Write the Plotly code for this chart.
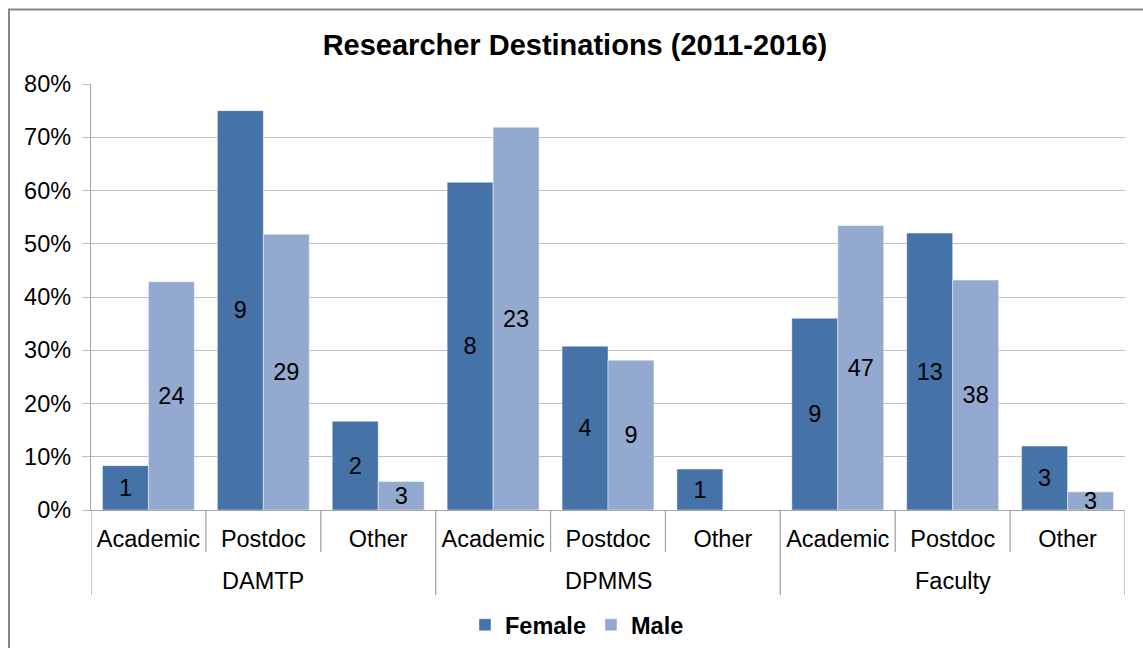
import plotly.graph_objects as go

# Destination counts per department, split by gender
groups = ["DAMTP", "DPMMS", "Faculty"]
destinations = ["Academic", "Postdoc", "Other"]
female_counts = [[1, 9, 2], [8, 4, 1], [9, 13, 3]]
male_counts = [[24, 29, 3], [23, 9, 0], [47, 38, 3]]
y_ticks = [0, 0.1, 0.2, 0.3, 0.4, 0.5, 0.6, 0.7, 0.8]

FEMALE_COLOR = "#4572A7"
MALE_COLOR = "#93A9CF"
FONT = "Liberation Sans, Arial, sans-serif"
FS = 23.5

W, H = 1143, 648
L, R, T, B = 91, 18, 84, 138
plot_w = W - L - R
plot_h = H - T - B


def px_x(px):
    return (px - L) / plot_w


def px_y(py):
    return (H - B - py) / plot_h


def shares(counts):
    out = []
    for row in counts:
        total = sum(row)
        out.extend(c / total for c in row)
    return out


def labels(counts):
    return [str(c) if c else "" for row in counts for c in row]


n_cat = len(groups) * len(destinations)
x_pos = list(range(n_cat))
tick_text = [d for _ in groups for d in destinations]

fig = go.Figure()
for name, counts, color in [("Female", female_counts, FEMALE_COLOR),
                            ("Male", male_counts, MALE_COLOR)]:
    fig.add_trace(go.Bar(
        name=f"<b>{name}</b>", x=x_pos, y=shares(counts), text=labels(counts),
        textposition="inside", insidetextanchor="middle", constraintext="none",
        textangle=0,
        insidetextfont=dict(family=FONT, size=FS, color="#000000"),
        marker=dict(color=color, line=dict(color="rgba(255,255,255,0.45)", width=1)),
        hoverinfo="skip", cliponaxis=False,
    ))

shapes = []
# separators between destinations (short) and between departments (long)
for i in range(n_cat + 1):
    xv = i - 0.5
    long_line = i % len(destinations) == 0
    shapes.append(dict(
        type="line", xref="x", yref="paper", x0=xv, x1=xv,
        y0=0, y1=px_y(595 if long_line else 552),
        line=dict(color="#A6A6A6", width=1.3),
    ))
# chart frame
shapes.append(dict(
    type="rect", xref="paper", yref="paper",
    x0=px_x(9), x1=px_x(1160), y0=px_y(9.5), y1=px_y(665),
    line=dict(color="#868686", width=2), fillcolor="rgba(0,0,0,0)", layer="below",
))

annotations = [
    dict(x=g * len(destinations) + 1, xref="x", y=px_y(581), yref="paper",
         text=name, showarrow=False, yanchor="middle",
         font=dict(family=FONT, size=FS, color="#000000"))
    for g, name in enumerate(groups)
]

fig.update_layout(
    width=W, height=H,
    margin=dict(l=L, r=R, t=T, b=B, autoexpand=False),
    paper_bgcolor="#FFFFFF", plot_bgcolor="#FFFFFF",
    barmode="group", bargap=0.2, bargroupgap=0,
    title=dict(text="<b>Researcher Destinations (2011-2016)</b>",
               x=0.503, xanchor="center", y=1 - 45 / H, yanchor="middle",
               font=dict(family=FONT, size=29, color="#000000")),
    font=dict(family=FONT, size=FS, color="#000000"),
    xaxis=dict(range=[-0.5, n_cat - 0.5], tickvals=x_pos, ticktext=tick_text,
               showgrid=False, zeroline=False, showline=True, linecolor="#A6A6A6",
               linewidth=1.3, ticks="", ticklabelstandoff=8, automargin=False,
               tickfont=dict(family=FONT, size=FS, color="#000000")),
    yaxis=dict(range=[0, 0.8], tickvals=y_ticks, tickformat=".0%",
               showgrid=True, gridcolor="#BFBFBF", gridwidth=1.3,
               zeroline=False, showline=True, linecolor="#A6A6A6", linewidth=1.3,
               ticks="outside", ticklen=8, tickcolor="#BFBFBF", tickwidth=1.3,
               ticklabelstandoff=6, automargin=False,
               tickfont=dict(family=FONT, size=FS, color="#000000")),
    legend=dict(orientation="h", x=0.47, xanchor="center",
                yref="container", y=1 - 625 / H, yanchor="middle",
                font=dict(family=FONT, size=FS, color="#000000"),
                itemwidth=30, traceorder="normal"),
    shapes=shapes, annotations=annotations,
)

fig.write_html("out.html")
